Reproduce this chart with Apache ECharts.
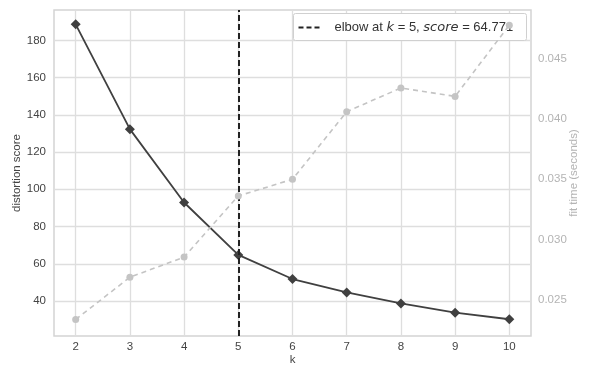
<!DOCTYPE html>
<html>
<head>
<meta charset="utf-8">
<script src="https://cdn.jsdelivr.net/npm/echarts@6/dist/echarts.min.js"></script>
<style>html,body{margin:0;padding:0;background:#fff}#c{width:590px;height:366px}</style>
</head>
<body>
<div id="c"></div>
<script>
// ---- data ----
const kValues = [2, 3, 4, 5, 6, 7, 8, 9, 10];
const distortion = [188.6, 132.3, 92.9, 64.771, 51.8, 44.6, 38.7, 33.7, 30.2];
const fitTime = [0.02335, 0.02685, 0.02853, 0.03361, 0.03499, 0.04061, 0.04258, 0.04188, 0.0478];
const elbowK = 5;
const elbowScore = 64.771;
const xTicks = [2, 3, 4, 5, 6, 7, 8, 9, 10];
const yLeftTicks = [40, 60, 80, 100, 120, 140, 160, 180];
const yRightTicks = [0.025, 0.030, 0.035, 0.040, 0.045];

const FONT = '"Liberation Sans", Arial, sans-serif';
const chart = echarts.init(document.getElementById('c'), null, {renderer: 'canvas'});
const gridColor = '#dedede';

chart.setOption({
  backgroundColor: '#fff',
  animation: false,
  grid: {left: 54, right: 59, top: 10, bottom: 30, containLabel: false, outerBoundsMode: 'none',
    show: true, borderColor: '#d4d4d4', borderWidth: 1.5, backgroundColor: '#fff'},
  xAxis: {
    type: 'value', min: 1.6, max: 10.4,
    name: 'k', nameLocation: 'middle', nameGap: 18, nameMoveOverlap: false,
    nameTextStyle: {color: '#444', fontSize: 11.5, fontFamily: FONT},
    axisLine: {show: false}, axisTick: {show: false, customValues: xTicks},
    axisLabel: {customValues: xTicks, color: '#444', fontSize: 11.5, fontFamily: FONT, margin: 5},
    splitLine: {show: true, lineStyle: {color: gridColor, width: 1.3}}
  },
  yAxis: [{
    type: 'value', min: 21.2, max: 196.3,
    name: 'distortion score', nameLocation: 'middle', nameGap: 31, nameMoveOverlap: false,
    nameTextStyle: {color: '#444', fontSize: 11.5, fontFamily: FONT},
    axisLine: {show: false}, axisTick: {show: false, customValues: yLeftTicks},
    axisLabel: {customValues: yLeftTicks, color: '#444', fontSize: 11.5, fontFamily: FONT, margin: 8},
    splitLine: {show: true, lineStyle: {color: gridColor, width: 1.3}}
  }, {
    type: 'value', min: 0.02197, max: 0.04906, position: 'right',
    name: 'fit time (seconds)', nameLocation: 'middle', nameGap: 37, nameMoveOverlap: false,
    nameTextStyle: {color: '#b4b4b4', fontSize: 11.5, fontFamily: FONT},
    axisLine: {show: false}, axisTick: {show: false, customValues: yRightTicks},
    axisLabel: {customValues: yRightTicks, color: '#b4b4b4', fontSize: 11.5, fontFamily: FONT, margin: 7,
      formatter: v => v.toFixed(3)},
    splitLine: {show: false}
  }],
  series: [{
    type: 'line', yAxisIndex: 1, z: 20,
    data: kValues.map((k, i) => [k, fitTime[i]]),
    symbol: 'circle', symbolSize: 7,
    itemStyle: {color: '#c4c4c4'},
    lineStyle: {color: '#c4c4c4', width: 1.6, type: [5, 4]}
  }, {
    type: 'line', yAxisIndex: 0, z: 3,
    data: kValues.map((k, i) => [k, distortion[i]]),
    symbol: 'diamond', symbolSize: 10,
    itemStyle: {color: '#404040'},
    lineStyle: {color: '#404040', width: 1.8},
    markLine: {
      silent: true, symbol: 'none', label: {show: false},
      lineStyle: {color: '#222', width: 2, type: [6, 3]},
      data: [{xAxis: elbowK}]
    }
  }],
  graphic: [{
    type: 'group', right: 590 - 527, top: 13,
    children: [{
      type: 'rect', z: 10, shape: {x: 0, y: 0, width: 233, height: 27, r: 2},
      style: {fill: '#fff', stroke: '#d0d0d0', lineWidth: 1}
    }, {
      type: 'line', z: 11, shape: {x1: 5, y1: 14, x2: 29, y2: 14},
      style: {stroke: '#222', lineWidth: 2, lineDash: [5, 3]}
    }, {
      type: 'text', z: 11, x: 41, y: 14,
      style: {
        text: 'elbow at {i|k} = ' + elbowK + ', {i|score} = ' + elbowScore,
        fontSize: 13, fontFamily: FONT, fill: '#333', verticalAlign: 'middle',
        rich: {i: {fontStyle: 'italic', fontSize: 13, fontFamily: '"DejaVu Sans", sans-serif', fill: '#333'}}
      }
    }]
  }]
});
</script>
</body>
</html>
